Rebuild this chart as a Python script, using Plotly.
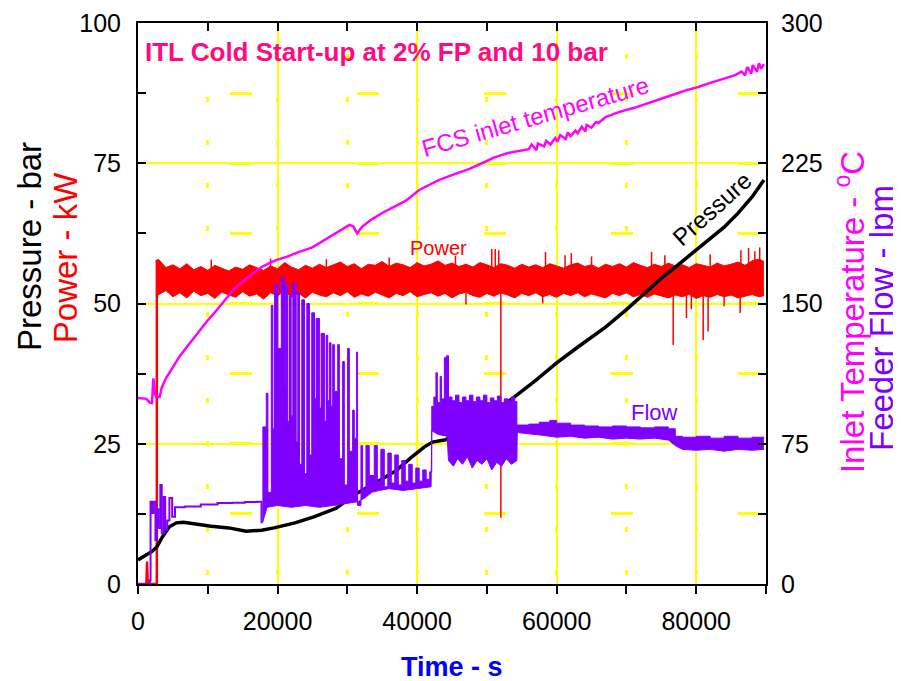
import plotly.graph_objects as go

# ---------------- data ----------------
# Power (kW, left axis): start-up, noisy band envelope, isolated spikes
power_start_t = [0, 1200, 1300, 1400, 2700, 2700]
power_start = [0, 0, 4, 0, 0, 57.8]

power_t = [2750] + list(range(3000, 90000, 1000)) + [89700]
power_upper = [57.8,
    57.8, 56.4, 56.9, 56.2, 57.1, 56.0, 56.6, 55.9, 56.8, 56.3,
    55.8, 56.5, 56.1, 56.9, 56.4, 55.9, 56.7, 56.2, 57.3, 56.5,
    56.0, 56.8, 56.3, 57.0, 56.4, 56.9, 57.4, 56.6, 57.1, 56.2,
    57.0, 56.8, 57.5, 56.6, 57.2, 56.9, 56.4, 57.3, 56.7, 57.0,
    57.6, 56.8, 57.2, 56.6, 57.0, 56.5, 57.3, 56.9, 56.4, 57.1,
    56.8, 56.3, 57.0, 56.5, 56.9, 56.4, 57.1, 56.7, 56.3, 56.9,
    57.2, 56.6, 56.9, 56.3, 57.0, 56.6, 57.1, 56.5, 57.3, 56.8,
    56.4, 57.0, 56.6, 57.2, 56.7, 56.9, 56.4, 57.1, 56.8, 56.5,
    57.2, 56.7, 57.0, 57.4, 56.8, 57.6, 57.9,
    57.5]
power_lower = [51.5,
    51.6, 52.3, 51.2, 51.9, 51.0, 52.2, 51.4, 51.8, 50.9, 52.0,
    51.5, 51.1, 52.1, 51.3, 51.7, 50.8, 51.9, 51.4, 52.2, 51.2,
    51.8, 51.0, 52.0, 51.5, 51.2, 51.9, 51.4, 52.1, 51.1, 51.7,
    51.3, 52.0, 51.5, 51.0, 51.8, 51.4, 52.1, 51.2, 51.6, 51.9,
    51.3, 51.8, 51.0, 51.7, 52.0, 51.4, 51.1, 51.8, 51.3, 51.9,
    51.5, 51.0, 51.8, 51.4, 51.9, 51.2, 51.6, 51.1, 51.8, 51.4,
    51.9, 51.2, 51.7, 51.3, 51.0, 51.8, 51.4, 51.9, 51.2, 51.6,
    51.1, 51.7, 51.3, 51.0, 51.5, 51.2, 51.6, 50.9, 51.4, 51.1,
    51.6, 51.2, 51.5, 51.0, 51.3, 51.6, 51.2,
    51.4]
power_base = 54
power_spike_t = [10500, 19000, 27000, 36000, 45500, 50700, 51200, 51700, 58400, 61200,
                 62100, 65000, 73600, 75500, 82000, 86400, 87500, 88400, 89100, 52000,
                 76700, 78600, 79300, 81000, 81700, 86300, 47000, 58000, 84000]
power_spike_v = [57.8, 58.0, 57.9, 58.2, 58.5, 59.7, 59.7, 59.5, 59.2, 58.6,
                 59.0, 58.4, 59.2, 58.6, 58.8, 59.5, 59.9, 59.3, 60.0, 11.8,
                 42.6, 47.4, 49.0, 43.5, 45.0, 48.3, 49.8, 50.0, 49.5]

# Pressure (bar, left axis)
pressure_t = [0, 1000, 2000, 2700, 3500, 4500, 5500, 6500, 8500, 10500,
              13000, 15500, 17700, 19500, 22500, 25300, 28400, 31000, 34000, 37000,
              39000, 41000, 42200, 43000, 44100, 46000, 48000, 50000, 52000, 54000,
              57000, 60000, 63000, 67000, 70000, 72700, 75000, 77400, 79500, 81300,
              84000, 86000, 88000, 89700]
pressure = [4.3, 5.0, 5.8, 6.6, 8.4, 10.2, 10.9, 11.0, 10.6, 10.3,
            10.0, 9.4, 9.6, 10.0, 10.9, 12.0, 13.5, 15.9, 18.0, 20.2,
            22.4, 24.4, 25.3, 25.5, 25.7, 27.2, 28.8, 30.3, 31.6, 33.4,
            36.3, 39.4, 42.2, 45.8, 48.9, 51.9, 54.5, 56.9, 59.0, 60.8,
            63.6, 66.1, 69.0, 72.0]

# FCS inlet temperature (degC, right axis)
temp_t = [0, 1200, 1700, 2000, 2200, 2400, 2600, 3100, 3400, 4000,
          5000, 6000, 7000, 8000, 8900, 10000, 11300, 12500, 13600, 15000,
          16400, 17700, 18900, 20000, 21300, 23000, 25000, 27000, 28400, 29500,
          30300, 30900, 31400, 32100, 33500, 35000, 36800, 38400, 40300, 41500,
          43100, 44500, 46000, 47500, 49300, 51000, 53000, 55000, 56000, 56400,
          57100, 57300, 58200, 58500, 59100, 59800, 60100, 60500, 61300, 61600,
          62000, 62700, 63000, 63600, 64100, 64300, 65000, 65600, 66000, 67000,
          69000, 71000, 73100, 75000, 77000, 78500, 80300, 82000, 84000, 85500,
          86500, 87000, 87300, 87900, 88100, 88700, 89000, 89300, 89700]
temp = [99.5, 99, 97, 96.8, 110, 102, 100, 100, 105, 110,
        116, 122, 126.7, 131.5, 135.8, 141, 146.5, 152, 157, 161.8,
        166, 169.5, 171.7, 173.5, 174.9, 177.5, 180, 184.5, 187.7, 190,
        192, 191, 187.5, 191, 195, 198.4, 202, 205, 210.7, 213,
        216, 218, 219.8, 222, 225, 228, 230.5, 232, 232.5, 235,
        232, 235.5, 234, 237, 235, 238.5, 236.5, 240, 238, 241.5,
        239.5, 242.5, 241, 244.5, 242, 245.5, 244, 247, 246.5, 249.7,
        252.5, 254.5, 257, 259.5, 262, 264, 265.8, 268, 270.5, 272,
        274, 272, 276.5, 273, 277.5, 274, 278.5, 275.5, 278]

# Feeder flow (lpm, right axis)
flow_early_t = [0, 1500, 1700, 1800, 2000, 2200, 2500, 2700, 2900, 3200,
                3400, 3700, 3900, 4200, 4500, 4900, 5300, 5800, 6700, 9000,
                11400, 13500, 15300, 17100, 17500, 17700, 17850]
flow_early = [0, 0, 2, 44, 38, 44, 23.5, 40, 30, 53,
              27, 46.5, 29, 34, 46, 36, 41, 41, 41.5, 42.5,
              43.3, 43.5, 43.9, 44, 44, 33, 33]
flow_top_t = [17850, 17900, 18380, 18620, 19100, 19330, 19570, 20050, 20530, 21000,
              21100, 21480, 21710, 21950, 22190, 22670, 22900, 23140, 23470, 23860,
              24190, 24570, 24900, 25290, 25530, 26000, 26240, 26710, 26960, 27190,
              27430, 27660, 27900, 28140, 28620, 28860, 29330, 29570, 30040, 30290,
              30760, 31000, 31330, 31470, 31950, 32190, 32670, 33140, 33860, 34300,
              34800, 35300, 35800, 36300, 36800, 37300, 37800, 38300, 38800, 39300,
              39800, 40300, 40800, 41300, 41800, 42100, 42400, 42700, 42900, 43300,
              43500, 43900, 44200, 44500, 45000, 45500, 46000, 46500, 47000, 47500,
              48000, 48500, 49000, 49500, 50000, 50500, 51000, 51500, 52000, 52500,
              53000, 53500, 54000, 54300, 56000, 57500, 59000, 60000, 62000, 64000,
              66000, 68000, 70000, 72000, 74000, 76000, 77000, 78000, 80000, 82000,
              84000, 86000, 88000, 89700]
flow_top = [33, 84, 102, 49, 149, 83, 160, 126, 164, 106,
            160, 87, 155, 90, 161, 76, 156, 64, 152, 59,
            150, 69, 145, 99, 142, 94, 134, 87, 133, 98,
            129, 95, 128, 103, 128, 67, 119, 53, 126, 71,
            93, 78, 124, 42, 74, 51, 74, 58, 74, 55,
            72, 52, 70, 54, 69, 53, 66, 55, 64, 54,
            62, 55, 61, 56, 60, 95, 100, 113, 97, 111,
            99, 121, 122, 100, 98, 101, 97, 100, 98, 101,
            97.5, 100, 98, 101, 97, 99.5, 98, 100.5, 97, 99,
            98, 100, 97.5, 85, 85.5, 86.5, 87.5, 86, 85, 84.5,
            84, 84.5, 84, 83.5, 84, 83, 79, 78.5, 79, 78,
            79, 78, 78.5, 78]
flow_bot_t = [17850, 18500, 20000, 22000, 24000, 26000, 28000, 30000, 31500, 32500,
              33500, 34500, 36000, 38000, 40000, 42000, 42100, 43000, 44300, 44500,
              45200, 45800, 46500, 47200, 47900, 48600, 49300, 50000, 50700, 51400,
              52100, 52800, 53500, 54300, 54350, 56000, 58000, 60000, 62000, 64000,
              66000, 68000, 70000, 72000, 74000, 76000, 77000, 78000, 80000, 82000,
              84000, 86000, 88000, 89700]
flow_bot = [33, 41, 42, 41, 42, 41, 42, 43, 44, 46,
            49, 50, 51, 50, 51, 52, 82, 80, 79, 66,
            63, 67, 64, 68, 62, 66, 64, 67, 61, 65,
            63, 67, 64, 66, 81, 80.5, 79.5, 78.5, 79, 78,
            78.5, 77.5, 78, 77.5, 78, 77, 74, 72, 71.5, 72,
            71, 72, 71.5, 72]

x_ticks = [0, 20000, 40000, 60000, 80000]
x_ticktext = ["0", "20000", "40000", "60000", "80000"]
left_ticks = [0, 25, 50, 75, 100]
right_ticks = [0, 75, 150, 225, 300]

# ---------------- styles ----------------
RED = "#FF0000"
MAG = "#FF00FF"
PUR = "#7F00FF"
YEL = "#FFFF00"
FONT = "Liberation Sans, Arial, sans-serif"

fig = go.Figure()

# Power
fig.add_trace(go.Scatter(x=power_start_t, y=power_start, mode="lines",
                         line=dict(color=RED, width=2.5), hoverinfo="skip"))
sx, sy = [], []
for t, v in zip(power_spike_t, power_spike_v):
    sx += [t, t, None]
    sy += [power_base, v, None]
fig.add_trace(go.Scatter(x=sx, y=sy, mode="lines", line=dict(color=RED, width=1.5),
                         hoverinfo="skip"))
fig.add_trace(go.Scatter(x=power_t, y=power_lower, mode="lines",
                         line=dict(color=RED, width=1), hoverinfo="skip"))
fig.add_trace(go.Scatter(x=power_t, y=power_upper, mode="lines", fill="tonexty",
                         fillcolor=RED, line=dict(color=RED, width=1), hoverinfo="skip"))

# Flow
fig.add_trace(go.Scatter(x=flow_early_t, y=flow_early, mode="lines", yaxis="y2",
                         line=dict(color=PUR, width=2, shape="hv"), hoverinfo="skip"))
fig.add_trace(go.Scatter(x=flow_bot_t, y=flow_bot, mode="lines", yaxis="y2",
                         line=dict(color=PUR, width=1), hoverinfo="skip"))
fig.add_trace(go.Scatter(x=flow_top_t, y=flow_top, mode="lines", yaxis="y2",
                         fill="tonexty", fillcolor=PUR,
                         line=dict(color=PUR, width=1, shape="hv"), hoverinfo="skip"))

# Pressure
fig.add_trace(go.Scatter(x=pressure_t, y=pressure, mode="lines",
                         line=dict(color="black", width=3.5), hoverinfo="skip"))

# Temperature
fig.add_trace(go.Scatter(x=temp_t, y=temp, mode="lines", yaxis="y2",
                         line=dict(color=MAG, width=2.5), hoverinfo="skip"))

# dummy trace for the top mirrored axis
fig.add_trace(go.Scatter(x=[None], y=[None], xaxis="x2", mode="lines", hoverinfo="skip"))

axis_line = dict(showline=True, linecolor="black", linewidth=2, zeroline=False)
tickfont = dict(family=FONT, size=25, color="black")

# page body has an 8px margin, so the figure is 8px smaller than the window
fig.update_layout(
    width=893, height=673,
    margin=dict(l=130, r=135, t=15, b=97, autoexpand=False),
    paper_bgcolor="white", plot_bgcolor="white",
    showlegend=False,
    xaxis=dict(range=[0, 90000], tickvals=x_ticks, ticktext=x_ticktext,
               ticks="outside", ticklen=8,
               tickwidth=1.5, tickcolor="black", tickfont=tickfont,
               showgrid=True, gridcolor=YEL, gridwidth=2,
               minor=dict(dtick=10000, tick0=0, ticks="outside", ticklen=8,
                          tickwidth=1.5, tickcolor="black", showgrid=True,
                          gridcolor=YEL, gridwidth=2.5, griddash="0px,31px,5px,7px"),
               ticklabelstandoff=6, **axis_line),
    xaxis2=dict(range=[0, 90000], overlaying="x", side="top", dtick=10000, tick0=0,
                ticks="inside", ticklen=8, tickwidth=1.5, tickcolor="black",
                showticklabels=False, showgrid=False, **axis_line),
    yaxis=dict(range=[0, 100], tickvals=left_ticks, ticks="inside", ticklen=8,
               tickwidth=1.5, tickcolor="black", tickfont=tickfont,
               showgrid=True, gridcolor=YEL, gridwidth=2,
               minor=dict(dtick=12.5, tick0=0, ticks="inside", ticklen=8,
                          tickwidth=1.5, tickcolor="black", showgrid=True,
                          gridcolor=YEL, gridwidth=2.5, griddash="0px,92px,22px,13px"),
               ticklabelstandoff=10, **axis_line),
    yaxis2=dict(range=[0, 300], overlaying="y", side="right", tickvals=right_ticks,
                ticks="inside", ticklen=8, tickwidth=1.5, tickcolor="black",
                tickfont=tickfont, showgrid=False,
                minor=dict(dtick=37.5, tick0=0, ticks="inside", ticklen=8,
                           tickwidth=1.5, tickcolor="black", showgrid=False),
                ticklabelstandoff=8, **axis_line),
)

ann = []
# chart title inside plot
ann.append(dict(text="<b>ITL Cold Start-up at 2% FP and 10 bar</b>", xref="paper", yref="paper",
                x=0.008, y=0.948, xanchor="left", yanchor="middle", showarrow=False,
                font=dict(family=FONT, size=26, color="#FF0A82")))
# axis titles
ann.append(dict(text="Pressure - bar", xref="paper", yref="paper", x=-0.172, y=0.6025,
                textangle=-90, showarrow=False, xanchor="center", yanchor="middle",
                font=dict(family=FONT, size=33, color="black")))
ann.append(dict(text="Power - kW", xref="paper", yref="paper", x=-0.116, y=0.581,
                textangle=-90, showarrow=False, xanchor="center", yanchor="middle",
                font=dict(family=FONT, size=33, color=RED)))
ann.append(dict(text="Inlet Temperature - <sup>o</sup>C", xref="paper", yref="paper",
                x=1.134, y=0.485, textangle=-90, showarrow=False, xanchor="center",
                yanchor="middle", font=dict(family=FONT, size=33, color=MAG)))
ann.append(dict(text="Feeder Flow - lpm", xref="paper", yref="paper", x=1.183, y=0.474,
                textangle=-90, showarrow=False, xanchor="center", yanchor="middle",
                font=dict(family=FONT, size=33, color=PUR)))
ann.append(dict(text="<b>Time - s</b>", xref="paper", yref="paper", x=0.5, y=-0.148,
                showarrow=False, xanchor="center", yanchor="middle",
                font=dict(family=FONT, size=27, color="#0000FF")))
# series labels
ann.append(dict(text="Power", x=43100, y=59.9, xref="x", yref="y", showarrow=False,
                font=dict(family=FONT, size=20, color=RED)))
ann.append(dict(text="Flow", x=74000, y=30.5, xref="x", yref="y", showarrow=False,
                font=dict(family=FONT, size=22, color=PUR)))
ann.append(dict(text="Pressure", x=82300, y=66.9, xref="x", yref="y", showarrow=False,
                textangle=-42, font=dict(family=FONT, size=24, color="black")))
ann.append(dict(text="FCS inlet temperature", x=57000, y=83.3, xref="x", yref="y",
                showarrow=False, textangle=-16,
                font=dict(family=FONT, size=24, color=MAG)))
fig.update_layout(annotations=ann)

fig.write_html("out.html")
